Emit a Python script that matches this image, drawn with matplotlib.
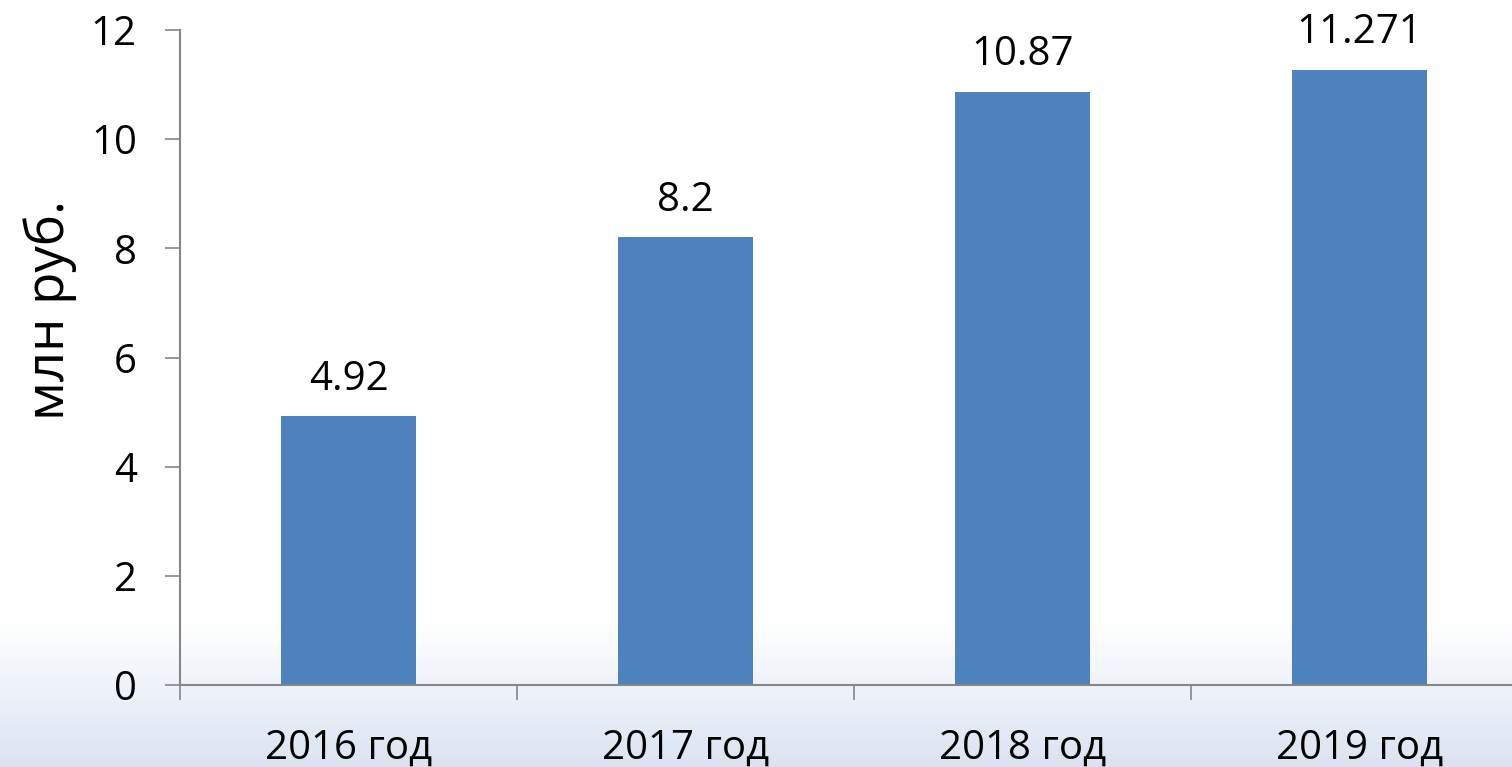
import matplotlib
matplotlib.use('Agg')
import matplotlib.pyplot as plt
import numpy as np
from matplotlib.colors import LinearSegmentedColormap

years = ['2016 год', '2017 год', '2018 год', '2019 год']
values = [4.92, 8.2, 10.87, 11.271]
value_labels = ['4.92', '8.2', '10.87', '11.271']

plt.rcParams['font.family'] = ['Open Sans', 'DejaVu Sans']

fig = plt.figure(figsize=(15.12, 7.67), dpi=100)

# light blue gradient at the bottom of the slide
bg = fig.add_axes([0, 0, 1, 1], zorder=-10)
grad = np.linspace(0, 1, 767).reshape(-1, 1)
grad = np.clip((grad - 0.81) / 0.19, 0, 1)
cmap = LinearSegmentedColormap.from_list('bg', ['#ffffff', '#dbe3f2'])
bg.imshow(grad, aspect='auto', cmap=cmap, extent=[0, 1, 0, 1], origin='upper')
bg.axis('off')

ax = fig.add_axes([180 / 1512, 1 - 685 / 767, 1348 / 1512, 655 / 767])
ax.patch.set_alpha(0)

index = np.arange(len(years))
bars = ax.bar(index, values, width=0.4, color='#4F81BD', zorder=2)
for i, v in enumerate(values):
    ax.text(i, v + 0.3, value_labels[i], ha='center', va='bottom', fontsize=29)

ax.set_xlim(-0.5, 3.5)
ax.set_ylim(0, 12)
ax.set_yticks(np.arange(0, 13, 2))
ax.set_xticks(index)
ax.set_xticklabels(years)
ax.set_xticks(np.arange(-0.5, 4, 1), minor=True)

ax.tick_params(axis='x', which='major', length=0, pad=31, labelsize=29)
ax.tick_params(axis='x', which='minor', length=11, width=1.2, color='#868686', direction='out')
ax.tick_params(axis='y', length=11, width=1.2, color='#868686', pad=20, labelsize=29)

for s in ['top', 'right']:
    ax.spines[s].set_visible(False)
for s in ['left', 'bottom']:
    ax.spines[s].set_color('#868686')
    ax.spines[s].set_linewidth(1.5)

fig.text(50 / 1512, 1 - 310 / 767, 'млн руб.', rotation=90, fontsize=38,
         ha='center', va='center')

plt.savefig('out.png', dpi=100)
